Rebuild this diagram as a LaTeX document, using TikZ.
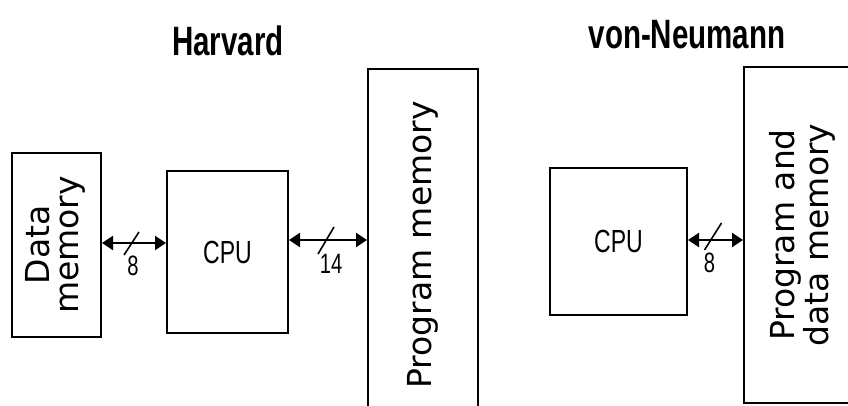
\documentclass[tikz,border=0pt]{standalone}
\usepackage{fontspec}
\usepackage{graphicx}
\setmainfont{DejaVu Sans}
\newfontfamily\narrowfont[FakeStretch=0.72]{Liberation Sans}
\newcommand\boxfont{\fontsize{33}{29}\selectfont}
\usetikzlibrary{arrows.meta, calc}

\begin{document}
\begin{tikzpicture}[x=1pt, y=1pt,
    membox/.style={draw, line width=2pt, inner sep=0pt},
    bus/.style={line width=2.4pt,
      {Triangle[length=11pt,width=14pt]}-{Triangle[length=11pt,width=14pt]}},
    slashline/.style={line width=1.6pt},
    titletext/.style={font=\narrowfont\bfseries\fontsize{41}{41}\selectfont, anchor=base},
    cputext/.style={font=\narrowfont\fontsize{32}{32}\selectfont},
    buslabel/.style={font=\narrowfont\fontsize{28}{28}\selectfont, inner sep=0pt}]
  \useasboundingbox (0,0) rectangle (848,-406);

  % titles
  \node[titletext] (harvard) at (228,-56) {Harvard};
  \node[titletext] (neumann) at (687,-49) {von-Neumann};

  % Harvard
  \node[membox, minimum width=89, minimum height=184] (dmem) at (56.5,-245)
    {\rotatebox{90}{\boxfont\begin{tabular}{@{}c@{}}Data\\ memory\end{tabular}}};
  \node[membox, minimum width=121, minimum height=162, cputext] (cpu1) at (227.5,-252) {CPU};
  \node[membox, minimum width=110, minimum height=352] (pmem) at (423,-245)
    {\rotatebox{90}{\boxfont Program memory}};

  \coordinate (b1) at ([yshift=2pt]dmem.east);
  \draw[bus] (b1) -- (b1 -| cpu1.west) node[coordinate, pos=0.5] (m1) {};
  \draw[slashline] ($(m1)+(-10,-12)$) -- ($(m1)+(5,11)$);
  \node[buslabel] (w1) at ($(m1)+(-1,-23)$) {8};

  \coordinate (b2) at ([yshift=12pt]cpu1.east);
  \draw[bus] (b2) -- (b2 -| pmem.west) node[coordinate, pos=0.5] (m2) {};
  \draw[slashline] ($(m2)+(-10,-14)$) -- ($(m2)+(6,13)$);
  \node[buslabel] (w2) at ($(m2)+(3,-24)$) {14};

  % von-Neumann
  \node[membox, minimum width=137, minimum height=147, cputext] (cpu2) at (618.5,-241.5) {CPU};
  \node[membox, minimum width=118, minimum height=336] (pdmem) at (803,-235)
    {\rotatebox{90}{\boxfont\begin{tabular}{@{}c@{}}Program and\\ data memory\end{tabular}}};

  \coordinate (b3) at ([yshift=1.5pt]cpu2.east);
  \draw[bus] (b3) -- (b3 -| pdmem.west) node[coordinate, pos=0.5] (m3) {};
  \draw[slashline] ($(m3)+(-11,-10)$) -- ($(m3)+(6,17)$);
  \node[buslabel] (w3) at ($(m3)+(-6,-23)$) {8};
\end{tikzpicture}
\end{document}
